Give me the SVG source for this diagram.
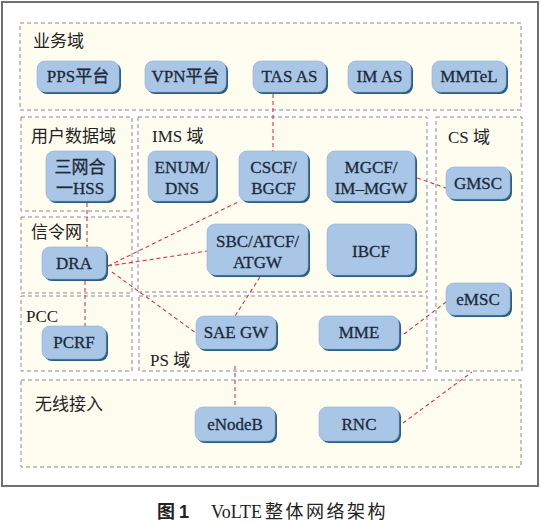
<svg xmlns="http://www.w3.org/2000/svg" width="541" height="524" viewBox="0 0 541 524">
<style>
.dom{fill:#fefdf0;stroke:#8a8a8a;stroke-width:1;stroke-dasharray:4 3}
.lab{font-family:"Liberation Serif","Noto Sans CJK SC",serif;font-size:17px;fill:#222}
.sh{fill:#2a5f7e}
.nd{fill:#a9c6e7;stroke:#8eb0d8;stroke-width:0.6}
.t{font-family:"Liberation Serif","Noto Sans CJK SC",serif;font-size:17px;fill:#1c2a3a;stroke:#1c2a3a;stroke-width:0.3;text-anchor:middle}
.c{fill:none;stroke:#d8334f;stroke-width:1.1;stroke-dasharray:4 3}
</style>
<rect x="0" y="0" width="541" height="524" fill="#ffffff"/>
<rect x="2" y="2" width="536" height="484" fill="#ffffff" stroke="#707070" stroke-width="2"/>
<g id="domains">
<g id="d-service"><rect class="dom" x="20" y="23" width="501" height="87"/><text class="lab" x="33" y="47">业务域</text></g>
<g id="d-user"><rect class="dom" x="21" y="117" width="111" height="94"/><text class="lab" x="31" y="142">用户数据域</text></g>
<g id="d-signal"><rect class="dom" x="21" y="217" width="111" height="76"/><text class="lab" x="31" y="238">信令网</text></g>
<g id="d-ims"><rect class="dom" x="138" y="117" width="289" height="175"/><text class="lab" x="152" y="142">IMS 域</text></g>
<g id="d-cs"><rect class="dom" x="436" y="117" width="86" height="254"/><text class="lab" x="448" y="143">CS 域</text></g>
<g id="d-pcc"><rect class="dom" x="21" y="296" width="111" height="75"/><text class="lab" x="26" y="322">PCC</text></g>
<g id="d-ps"><rect class="dom" x="139" y="296" width="288" height="75"/><text class="lab" x="150" y="366">PS 域</text></g>
<g id="d-ran"><rect class="dom" x="21" y="380" width="500" height="87"/><text class="lab" x="35" y="410">无线接入</text></g>
</g>
<g id="connectors">
<line class="c" x1="273" y1="94" x2="273" y2="151"/>
<line class="c" x1="87" y1="203" x2="87" y2="247"/>
<line class="c" x1="85" y1="281" x2="85" y2="326"/>
<line class="c" x1="108" y1="266" x2="240" y2="201"/>
<line class="c" x1="108" y1="266" x2="207" y2="251"/>
<line class="c" x1="112" y1="272" x2="196" y2="333"/>
<line class="c" x1="260" y1="277" x2="235" y2="316"/>
<line class="c" x1="417" y1="178" x2="446" y2="188"/>
<line class="c" x1="404" y1="334" x2="446" y2="302"/>
<line class="c" x1="235" y1="366" x2="235" y2="407"/>
<line class="c" x1="403" y1="423" x2="472" y2="372"/>
</g>
<g id="n-pps"><rect class="sh" x="39" y="63" width="82" height="31" rx="8"/><rect class="nd" x="37" y="61" width="82" height="31" rx="8"/><text class="t" x="78" y="82">PPS平台</text></g>
<g id="n-vpn"><rect class="sh" x="147" y="63" width="81" height="31" rx="8"/><rect class="nd" x="145" y="61" width="81" height="31" rx="8"/><text class="t" x="185.5" y="82">VPN平台</text></g>
<g id="n-tas"><rect class="sh" x="255" y="63" width="73" height="31" rx="8"/><rect class="nd" x="253" y="61" width="73" height="31" rx="8"/><text class="t" x="289.5" y="82">TAS AS</text></g>
<g id="n-imas"><rect class="sh" x="350" y="63" width="63" height="31" rx="8"/><rect class="nd" x="348" y="61" width="63" height="31" rx="8"/><text class="t" x="379.5" y="82">IM AS</text></g>
<g id="n-mmtel"><rect class="sh" x="434" y="63" width="74" height="31" rx="8"/><rect class="nd" x="432" y="61" width="74" height="31" rx="8"/><text class="t" x="469" y="82">MMTeL</text></g>
<g id="n-hss"><rect class="sh" x="48" y="153" width="68" height="50" rx="8"/><rect class="nd" x="46" y="151" width="68" height="50" rx="8"/><text class="t" x="80" y="173">三网合</text><text class="t" x="80" y="194">一HSS</text></g>
<g id="n-enum"><rect class="sh" x="150" y="153" width="68" height="50" rx="8"/><rect class="nd" x="148" y="151" width="68" height="50" rx="8"/><text class="t" x="182" y="173">ENUM/</text><text class="t" x="182" y="194">DNS</text></g>
<g id="n-cscf"><rect class="sh" x="241" y="153" width="69" height="50" rx="8"/><rect class="nd" x="239" y="151" width="69" height="50" rx="8"/><text class="t" x="273.5" y="173">CSCF/</text><text class="t" x="273.5" y="194">BGCF</text></g>
<g id="n-mgcf"><rect class="sh" x="329" y="153" width="88" height="50" rx="8"/><rect class="nd" x="327" y="151" width="88" height="50" rx="8"/><text class="t" x="371" y="173">MGCF/</text><text class="t" x="371" y="194">IM–MGW</text></g>
<g id="n-gmsc"><rect class="sh" x="448" y="169" width="64" height="32" rx="8"/><rect class="nd" x="446" y="167" width="64" height="32" rx="8"/><text class="t" x="478" y="189">GMSC</text></g>
<g id="n-sbc"><rect class="sh" x="209" y="226" width="101" height="51" rx="8"/><rect class="nd" x="207" y="224" width="101" height="51" rx="8"/><text class="t" x="257.5" y="247">SBC/ATCF/</text><text class="t" x="257.5" y="268">ATGW</text></g>
<g id="n-ibcf"><rect class="sh" x="329" y="226" width="88" height="51" rx="8"/><rect class="nd" x="327" y="224" width="88" height="51" rx="8"/><text class="t" x="371" y="257">IBCF</text></g>
<g id="n-dra"><rect class="sh" x="44" y="249" width="64" height="32" rx="8"/><rect class="nd" x="42" y="247" width="64" height="32" rx="8"/><text class="t" x="74" y="269">DRA</text></g>
<g id="n-emsc"><rect class="sh" x="448" y="285" width="64" height="32" rx="8"/><rect class="nd" x="446" y="283" width="64" height="32" rx="8"/><text class="t" x="478" y="305">eMSC</text></g>
<g id="n-pcrf"><rect class="sh" x="44" y="328" width="64" height="33" rx="8"/><rect class="nd" x="42" y="326" width="64" height="33" rx="8"/><text class="t" x="74" y="348">PCRF</text></g>
<g id="n-saegw"><rect class="sh" x="198" y="318" width="80" height="33" rx="8"/><rect class="nd" x="196" y="316" width="80" height="33" rx="8"/><text class="t" x="236" y="338">SAE GW</text></g>
<g id="n-mme"><rect class="sh" x="321" y="318" width="80" height="33" rx="8"/><rect class="nd" x="319" y="316" width="80" height="33" rx="8"/><text class="t" x="359" y="338">MME</text></g>
<g id="n-enodeb"><rect class="sh" x="197" y="409" width="80" height="34" rx="8"/><rect class="nd" x="195" y="407" width="80" height="34" rx="8"/><text class="t" x="235" y="430">eNodeB</text></g>
<g id="n-rnc"><rect class="sh" x="321" y="409" width="80" height="34" rx="8"/><rect class="nd" x="319" y="407" width="80" height="34" rx="8"/><text class="t" x="359" y="430">RNC</text></g>
<text font-family="'Liberation Serif','Noto Sans CJK SC',serif" font-size="18" fill="#222" y="518"><tspan x="157" font-family="'Noto Sans CJK SC',sans-serif" font-weight="bold">图</tspan><tspan x="179" font-family="'Liberation Sans',sans-serif" font-weight="bold">1</tspan><tspan x="211" font-size="18">VoLTE</tspan><tspan x="265" letter-spacing="2.5">整体网络架构</tspan></text>
</svg>
